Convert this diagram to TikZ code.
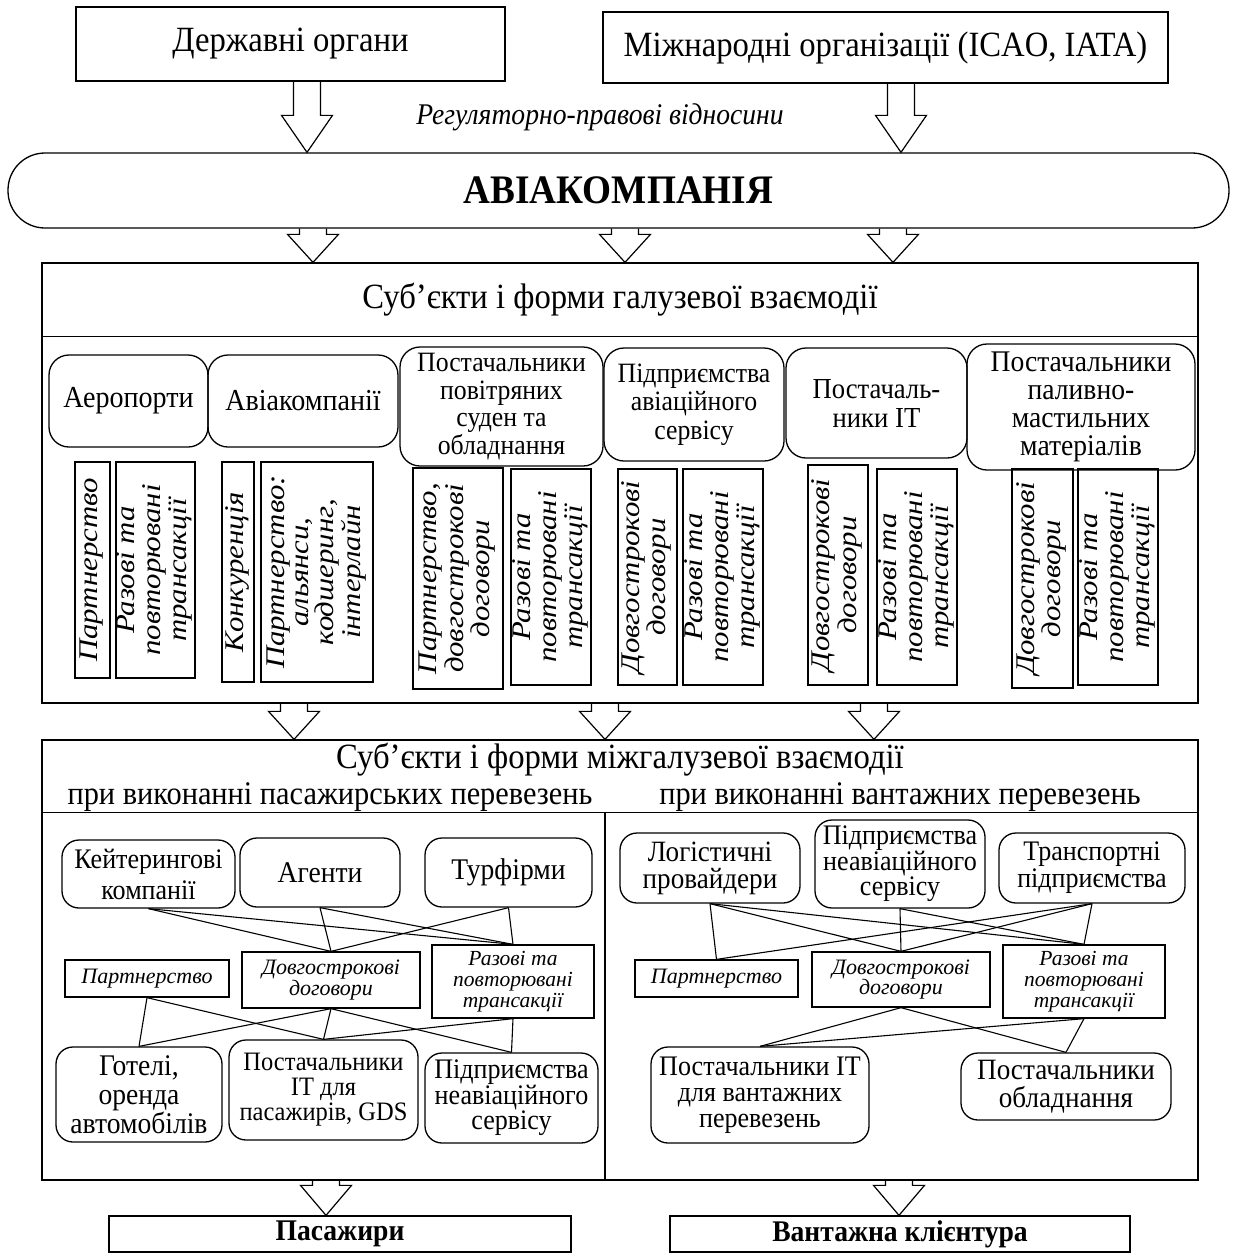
\documentclass[tikz,border=0pt]{standalone}
\usepackage{fontspec}
\setmainfont{Liberation Serif}[FakeStretch=0.92]
\newfontfamily\plainfam{Liberation Serif}
\usepackage{graphicx}
\usetikzlibrary{calc}
\newcommand\fsz[2]{\fontsize{#1}{#2}\selectfont}
\newcommand\vtxt[1]{\scalebox{1.14}[1]{\begin{tabular}{@{}c@{}}#1\end{tabular}}}
\newcommand\bx[7]{\node[#1, minimum width={#5-#3}, minimum height={#6-#4}] (#2) at ({(#3+#5)/2},{(#4+#6)/2}) {#7};}
\newcommand\vb[7]{\node[#1, minimum width={#6-#4}, minimum height={#5-#3}] (#2) at ({(#3+#5)/2},{(#4+#6)/2}) {\vtxt{#7}};}
\newcommand\harrow[4]{%
  \draw[harr] let \p1=#2, \p2=#3 in
  ({#1pt-13.5pt},\y1) -- ({#1pt-13.5pt},{\y2+#4pt}) -- ({#1pt-25.5pt},{\y2+#4pt}) -- (#1pt,\y2)
  -- ({#1pt+25.5pt},{\y2+#4pt}) -- ({#1pt+13.5pt},{\y2+#4pt}) -- ({#1pt+13.5pt},\y1);}
\tikzset{
  base/.style={draw, line width=1.3pt, inner sep=0pt, align=center},
  rect/.style={base, rectangle},
  rbox/.style={base, rounded corners=20pt},
  rboxs/.style={base, rounded corners=17pt},
  vbox/.style={base, rotate=90, font=\plainfam\itshape\fsz{27}{26}},
  ibox/.style={base, font=\plainfam\itshape\fsz{22}{20.5}},
  link/.style={line width=1.1pt},
  harr/.style={line width=1.2pt, line join=miter},
  frame/.style={line width=1.3pt},
  plain/.style={inner sep=0pt, align=center},
}
\begin{document}
\begin{tikzpicture}[x=1pt, y=-1pt]
\useasboundingbox[fill=white] (0,0) rectangle (1240,1254);

% top
\bx{rect, font=\fsz{35.5}{37}}{dep}{76}{7}{505}{81}{Державні органи}
\bx{rect, font=\fsz{35.5}{37}}{intl}{603}{12}{1168}{83}{Міжнародні організації (ICAO, IATA)}
\node[plain, font=\itshape\fsz{30}{32}] (reg) at (600,117) {Регуляторно-правові відносини};
\bx{base, rounded corners=37pt, font=\bfseries\fsz{40.5}{42}}{avia}{8}{153}{1229}{228}{АВІАКОМПАНІЯ}
\harrow{307}{(dep.south)}{(avia.north)}{37}
\harrow{901}{(intl.south)}{(avia.north)}{37}

% box 1
\bx{rect}{box1}{42}{263}{1198}{703}{}
\node[plain, font=\fsz{35.5}{37}] (t1) at (620,300) {Суб’єкти і форми галузевої взаємодії};
\draw[frame] ($(box1.north west)+(0,74)$) -- ($(box1.north east)+(0,74)$);
\harrow{313}{(avia.south)}{(box1.north)}{28}
\harrow{625}{(avia.south)}{(box1.north)}{28}
\harrow{893}{(avia.south)}{(box1.north)}{28}

\bx{rbox, font=\fsz{30.5}{28}}{ap}{49}{355}{208}{447}{Аеропорти}
\bx{rbox, font=\fsz{30.5}{28}}{ak}{208}{355}{398}{447}{Авіакомпанії}
\bx{rbox, font=\fsz{28}{27.5}}{pps}{400}{347}{603}{466}{Постачальники\\повітряних\\суден та\\обладнання}
\bx{rbox, font=\fsz{28}{28.5}}{pas}{604}{348}{784}{461}{Підприємства\\авіаційного\\сервісу}
\bx{rbox, font=\fsz{29}{29}}{pit}{786}{348}{967}{458}{Постачаль-\\ники IT}
\bx{rbox, font=\fsz{30}{28}}{ppm}{967}{344}{1195}{470}{Постачальники\\паливно-\\мастильних\\матеріалів}

\vb{vbox}{v1}{75}{462}{110}{678}{Партнерство}
\vb{vbox}{v2}{116}{462}{195}{678}{Разові та\\повторювані\\трансакції}
\vb{vbox}{v3}{222}{462}{254}{682}{Конкуренція}
\vb{vbox, font=\plainfam\itshape\fsz{27}{23.5}}{v4}{261}{462}{373}{682}{Партнерство:\\альянси,\\кодшеринг,\\інтерлайн}
\vb{vbox}{v5}{413}{468}{503}{689}{Партнерство,\\довгострокові\\договори}
\vb{vbox}{v6}{511}{469}{591}{685}{Разові та\\повторювані\\трансакції}
\vb{vbox}{v7}{618}{469}{677}{685}{Довгострокові\\договори}
\vb{vbox}{v8}{683}{469}{763}{685}{Разові та\\повторювані\\трансакції}
\vb{vbox}{v9}{808}{465}{868}{685}{Довгострокові\\договори}
\vb{vbox}{v10}{877}{469}{957}{685}{Разові та\\повторювані\\трансакції}
\vb{vbox}{v11}{1012}{469}{1073}{688}{Довгострокові\\договори}
\vb{vbox}{v12}{1078}{469}{1158}{685}{Разові та\\повторювані\\трансакції}

% box 2
\bx{rect}{box2}{42}{740}{1198}{1180}{}
\harrow{294}{(box1.south)}{(box2.north)}{28}
\harrow{605}{(box1.south)}{(box2.north)}{28}
\harrow{874}{(box1.south)}{(box2.north)}{28}
\node[plain, font=\fsz{35.5}{37}] (t2) at (620,760) {Суб’єкти і форми міжгалузевої взаємодії};
\node[plain, font=\fsz{33}{35}] (s2l) at (330,797) {при виконанні пасажирських перевезень};
\node[plain, font=\fsz{33}{35}] (s2r) at (900,797) {при виконанні вантажних перевезень};
\draw[frame] ($(box2.north west)+(0,73)$) -- ($(box2.north east)+(0,73)$);
\draw[frame] ($(box2.north)+(-15,73)$) -- ($(box2.south)+(-15,0)$);

\bx{rboxs, font=\fsz{28.3}{31}}{kei}{62}{840}{235}{908}{Кейтерингові\\компанії}
\bx{rboxs, font=\fsz{30}{30}}{age}{240}{838}{400}{907}{Агенти}
\bx{rboxs, font=\fsz{30}{30}}{tur}{425}{838}{592}{907}{Турфірми}
\bx{rboxs, font=\fsz{30}{29}}{hot}{56}{1047}{222}{1142}{Готелі,\\оренда\\автомобілів}
\bx{rboxs, font=\fsz{26.6}{25}}{lit}{229}{1040}{418}{1140}{Постачальники\\IT для\\пасажирів, GDS}
\bx{rboxs, font=\fsz{28.3}{25.5}}{lna}{425}{1053}{598}{1143}{Підприємства\\неавіаційного\\сервісу}
\bx{rboxs, font=\fsz{29.5}{27}}{log}{620}{833}{800}{903}{Логістичні\\провайдери}
\bx{rboxs, font=\fsz{28.3}{25.5}}{rna}{815}{820}{985}{908}{Підприємства\\неавіаційного\\сервісу}
\bx{rboxs, font=\fsz{28.3}{27}}{tra}{999}{833}{1185}{903}{Транспортні\\підприємства}
\bx{rboxs, font=\fsz{28.3}{26}}{rit}{651}{1047}{869}{1143}{Постачальники IT\\для вантажних\\перевезень}
\bx{rboxs, font=\fsz{29.5}{28.5}}{rob}{961}{1053}{1171}{1120}{Постачальники\\обладнання}

\bx{ibox}{lp}{65}{960}{229}{997}{Партнерство}
\bx{ibox}{ld}{242}{952}{420}{1008}{Довгострокові\\договори}
\bx{ibox, font=\plainfam\itshape\fsz{21.5}{21}}{lr}{432}{945}{594}{1018}{Разові та\\повторювані\\трансакції}
\bx{ibox}{rp}{635}{960}{798}{997}{Партнерство}
\bx{ibox}{rd}{812}{952}{990}{1007}{Довгострокові\\договори}
\bx{ibox, font=\plainfam\itshape\fsz{21.5}{21}}{rr}{1003}{945}{1165}{1018}{Разові та\\повторювані\\трансакції}

% links left
\draw[link] (kei.south) -- (ld.north);
\draw[link] (kei.south) -- (lr.north);
\draw[link] (age.south) -- (ld.north);
\draw[link] (age.south) -- (lr.north);
\draw[link] (tur.south) -- (ld.north);
\draw[link] (tur.south) -- (lr.north);
\draw[link] (lp.south) -- (hot.north);
\draw[link] (lp.south) -- (lit.north);
\draw[link] (ld.south) -- (hot.north);
\draw[link] (ld.south) -- (lit.north);
\draw[link] (ld.south) -- (lna.north);
\draw[link] (lr.south) -- (lit.north);
\draw[link] (lr.south) -- (lna.north);
% links right
\draw[link] (log.south) -- (rp.north);
\draw[link] (log.south) -- (rd.north);
\draw[link] (log.south) -- (rr.north);
\draw[link] (rna.south) -- (rd.north);
\draw[link] (rna.south) -- (rr.north);
\draw[link] (tra.south) -- (rp.north);
\draw[link] (tra.south) -- (rd.north);
\draw[link] (tra.south) -- (rr.north);
\draw[link] (rd.south) -- (rit.north);
\draw[link] (rd.south) -- (rob.north);
\draw[link] (rr.south) -- (rit.north);
\draw[link] (rr.south) -- (rob.north);

% bottom
\bx{rect, font=\bfseries\fsz{30}{32}}{pas}{109}{1216}{571}{1252}{Пасажири}
\bx{rect, font=\bfseries\fsz{30}{32}}{cargo}{670}{1216}{1130}{1252}{Вантажна клієнтура}
\harrow{326}{(box2.south)}{(pas.north)}{30}
\harrow{899}{(box2.south)}{(cargo.north)}{30}
\end{tikzpicture}
\end{document}
